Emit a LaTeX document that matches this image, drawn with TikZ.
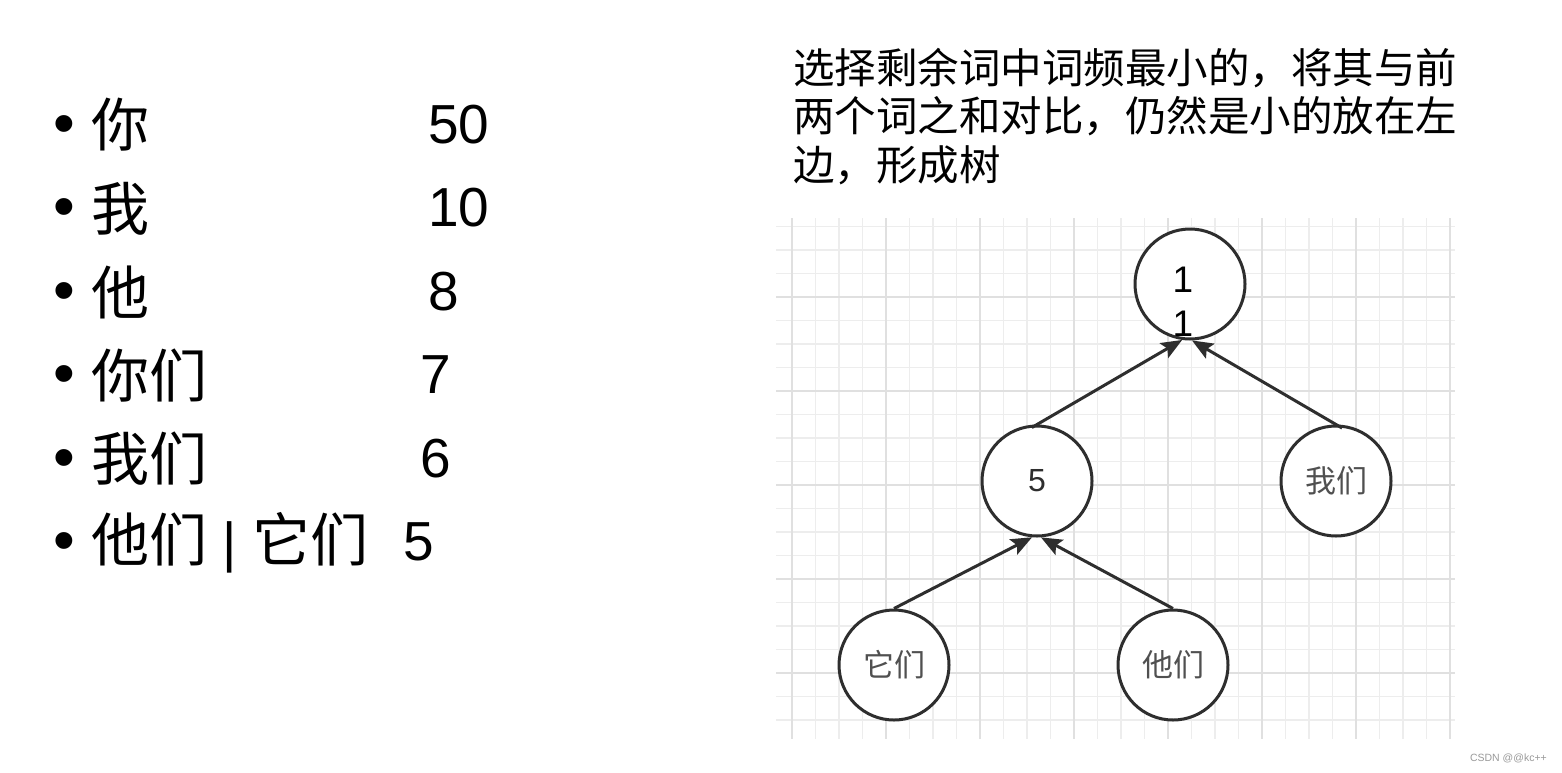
\documentclass[tikz,border=0pt]{standalone}
\usepackage{fontspec}
\setmainfont{Liberation Sans}
\newfontfamily\cjk{Noto Sans CJK SC}
\usetikzlibrary{arrows.meta}
\definecolor{gridminor}{HTML}{EDEDED}
\definecolor{gridmajor}{HTML}{E0E0E0}
\definecolor{ink}{HTML}{2E2E2E}
\definecolor{cjkgray}{HTML}{505050}
\definecolor{wmgray}{HTML}{9A9A9A}
\tikzset{
  treenode/.style={circle, draw=ink, line width=3pt, minimum size=110pt, inner sep=0pt, fill=white},
  arr/.style={draw=ink, line width=3pt, -{Stealth[length=21pt,width=17pt,inset=4pt]}},
  bulletmark/.style={anchor=center, inner sep=0pt, font=\fontsize{62}{62}\selectfont},
  itemtext/.style={anchor=west, inner sep=0pt, font=\fontsize{58}{58}\selectfont\cjk},
  itemnum/.style={anchor=base west, inner sep=0pt, font=\fontsize{55}{55}\selectfont},
  treecjk/.style={text=cjkgray, font=\fontsize{31}{31}\selectfont\cjk},
  treenum/.style={text=ink, font=\fontsize{32}{32}\selectfont},
  minorline/.style={draw=gridminor, line width=1.5pt},
  majorline/.style={draw=gridmajor, line width=1.8pt}
}
\begin{document}
\begin{tikzpicture}[x=1pt,y=-1pt]
\useasboundingbox (0,0) rectangle (1562,772);
\fill[white] (0,0) rectangle (1562,772);

% grid
\foreach \k in {0,...,28} {
  \pgfmathsetmacro\xx{792+23.5*\k}
  \draw[minorline] (\xx,218) -- (\xx,739);
}
\foreach \k in {0,...,21} {
  \pgfmathsetmacro\yy{226.5+23.5*\k}
  \draw[minorline] (776,\yy) -- (1455,\yy);
}
\foreach \k in {0,4,...,28} {
  \pgfmathsetmacro\xx{792+23.5*\k}
  \draw[majorline] (\xx,218) -- (\xx,739);
}
\foreach \k in {3,7,...,19} {
  \pgfmathsetmacro\yy{226.5+23.5*\k}
  \draw[majorline] (776,\yy) -- (1455,\yy);
}

% left list
\foreach \i in {0,...,5} {
  \pgfmathsetmacro\yy{130+83.5*\i}
  \node[bulletmark] (b\i) at (64.5,\yy) {•};
}
\node[itemtext] (t0) at (91,125) {你};
\node[itemtext] (t1) at (91,208.5) {我};
\node[itemtext] (t2) at (91,292) {他};
\node[itemtext] (t3) at (91,375.5) {你们};
\node[itemtext] (t4) at (91,459) {我们};
\node[anchor=west, inner sep=0pt, font=\fontsize{55}{55}\selectfont] (t5) at (91,542.5) {{\fontsize{58}{58}\selectfont\cjk 他们} | {\fontsize{58}{58}\selectfont\cjk 它们}};

\node[itemnum] (n0) at (428,143) {50};
\node[itemnum] (n1) at (428,226.5) {10};
\node[itemnum] (n2) at (428,310) {8};
\node[itemnum] (n3) at (420,393.5) {7};
\node[itemnum] (n4) at (420,477) {6};
\node[itemnum] (n5) at (403,560.5) {5};

% header text
\node[anchor=west, inner sep=0pt, align=left, font=\fontsize{41.5}{48.5}\selectfont\cjk] (header) at (793,116.5)
  {选择剩余词中词频最小的，将其与前\\两个词之和对比，仍然是小的放在左\\边，形成树};

% tree
\node[treenode] (root) at (1190,284) {};
\node[anchor=north, inner sep=0pt, align=center, font=\fontsize{37}{44}\selectfont] (rootlabel) at (1183,267) {1\\1};
\node[treenode, treenum] (five) at (1037,481) {5};
\node[treenode, treecjk] (we) at (1336,481) {我们};
\node[treenode, treecjk] (it) at (894,665) {它们};
\node[treenode, treecjk] (they) at (1173,665) {他们};

\draw[arr, shorten <=-6pt] (five.north) -- (root.-98);
\draw[arr, shorten <=-7pt] (we.north) -- (root.-88);
\draw[arr] (it.north) -- (five.-95);
\draw[arr] (they.north) -- (five.-86);

% watermark
\node[anchor=base east, inner sep=0pt, text=wmgray, font=\fontsize{10.5}{10.5}\selectfont] (wm) at (1547,761) {CSDN @@kc++};
\end{tikzpicture}
\end{document}
